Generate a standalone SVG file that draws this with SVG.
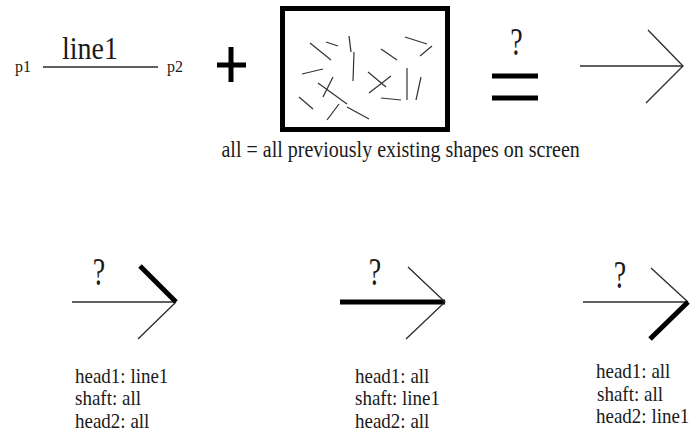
<svg xmlns="http://www.w3.org/2000/svg" width="699" height="433" viewBox="0 0 699 433">
<style>
  text { font-family: "Liberation Serif", "Times New Roman", serif; fill: #1a1a1a; }
  .thin { stroke: #2a2a2a; stroke-width: 1.3; fill: none; stroke-linecap: butt; }
  .thick { stroke: #000; stroke-width: 5; fill: none; stroke-linecap: butt; }
  .scr { stroke: #333; stroke-width: 1.2; fill: none; }
  .q { font-size: 28px; text-anchor: middle; }
  .lbl { font-size: 19px; }
</style>
<rect width="699" height="433" fill="#fff"/>

<g id="line1-node" font-family="Liberation Serif, serif">
  <text x="15" y="72" font-size="16">p1</text>
  <line class="thin" x1="43" y1="67" x2="158" y2="67"/>
  <text x="167" y="72" font-size="16">p2</text>
  <text transform="translate(62,59) scale(1,1.1)" font-size="28">line1</text>
</g>

<g id="plus">
  <line class="thick" x1="217" y1="65" x2="246" y2="65"/>
  <line class="thick" x1="231" y1="47" x2="231" y2="82"/>
</g>

<g id="all-shapes">
  <rect x="282.5" y="8.5" width="165" height="121" fill="none" stroke="#000" stroke-width="5"/>
  <line class="scr" x1="310" y1="43" x2="331" y2="60"/>
  <line class="scr" x1="326" y1="42" x2="338" y2="46"/>
  <line class="scr" x1="349" y1="36" x2="351" y2="52"/>
  <line class="scr" x1="354" y1="52" x2="353" y2="81"/>
  <line class="scr" x1="302" y1="74" x2="323" y2="69"/>
  <line class="scr" x1="318" y1="83" x2="347" y2="104"/>
  <line class="scr" x1="333" y1="77" x2="323" y2="97"/>
  <line class="scr" x1="299" y1="97" x2="313" y2="109"/>
  <line class="scr" x1="339" y1="104" x2="327" y2="120"/>
  <line class="scr" x1="347" y1="107" x2="369" y2="119"/>
  <line class="scr" x1="368" y1="72" x2="386" y2="87"/>
  <line class="scr" x1="391" y1="76" x2="369" y2="93"/>
  <line class="scr" x1="381" y1="49" x2="397" y2="60"/>
  <line class="scr" x1="405" y1="37" x2="427" y2="44"/>
  <line class="scr" x1="432" y1="46" x2="420" y2="56"/>
  <line class="scr" x1="407" y1="68" x2="407" y2="100"/>
  <line class="scr" x1="421" y1="77" x2="416" y2="100"/>
  <line class="scr" x1="381" y1="98" x2="401" y2="100"/>
  <text transform="translate(221.5,156.5) scale(1,1.15)" font-size="20">all = all previously existing shapes on screen</text>
</g>

<g id="equals">
  <text class="q" transform="translate(516.5,55) scale(1,1.4)">?</text>
  <line class="thick" x1="492" y1="76" x2="538" y2="76"/>
  <line class="thick" x1="492" y1="98" x2="538" y2="98"/>
</g>

<g id="result-arrow">
  <line class="thin" x1="580" y1="66" x2="683" y2="66"/>
  <polyline class="thin" points="648,30 683,66 646,103"/>
</g>

<g id="case1">
  <text class="q" transform="translate(99,285) scale(1,1.4)">?</text>
  <line class="thin" x1="72" y1="302" x2="176" y2="302"/>
  <line class="thin" x1="176" y1="302" x2="138" y2="339"/>
  <line class="thick" x1="140" y1="266" x2="176" y2="302"/>
  <g class="lbl">
    <text transform="translate(75,382.5) scale(1,1.15)">head1: line1</text>
    <text transform="translate(75,405) scale(1,1.15)">shaft: all</text>
    <text transform="translate(75,427.5) scale(1,1.15)">head2: all</text>
  </g>
</g>

<g id="case2">
  <text class="q" transform="translate(375,285) scale(1,1.4)">?</text>
  <line class="thick" x1="340" y1="302" x2="445" y2="302"/>
  <polyline class="thin" points="408,267 445,302 406,339"/>
  <g class="lbl">
    <text transform="translate(355,382.5) scale(1,1.15)">head1: all</text>
    <text transform="translate(355,405) scale(1,1.15)">shaft: line1</text>
    <text transform="translate(355,427.5) scale(1,1.15)">head2: all</text>
  </g>
</g>

<g id="case3">
  <text class="q" transform="translate(620,288) scale(1,1.4)">?</text>
  <line class="thin" x1="583" y1="302" x2="688" y2="302"/>
  <line class="thin" x1="651" y1="268" x2="688" y2="302"/>
  <line class="thick" x1="688" y1="302" x2="650" y2="339"/>
  <g class="lbl">
    <text transform="translate(596,378) scale(1,1.15)">head1: all</text>
    <text transform="translate(597,400.5) scale(1,1.15)">shaft: all</text>
    <text transform="translate(596,423) scale(1,1.15)">head2: line1</text>
  </g>
</g>
</svg>
